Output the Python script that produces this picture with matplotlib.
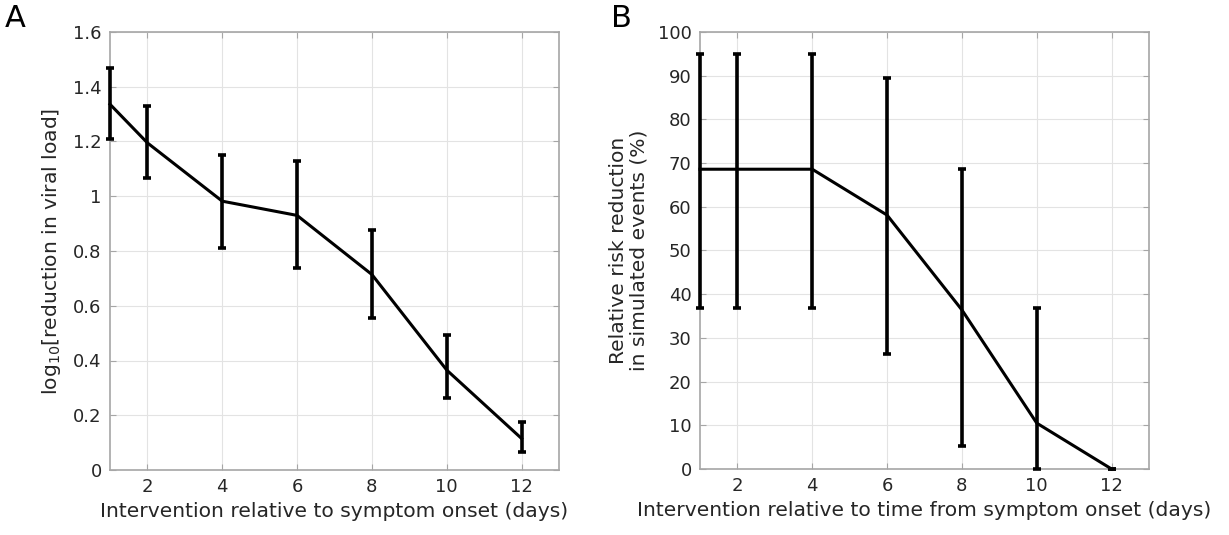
import matplotlib
matplotlib.use("Agg")
import matplotlib.pyplot as plt
import numpy as np

plt.rcParams['font.family'] = ['DejaVu Sans']

days = [1, 2, 4, 6, 8, 10, 12]

# Panel A: log10 reduction in viral load
viral_mean = [1.336, 1.195, 0.982, 0.930, 0.714, 0.365, 0.115]
viral_low = [1.208, 1.067, 0.810, 0.738, 0.557, 0.262, 0.065]
viral_high = [1.470, 1.328, 1.151, 1.130, 0.878, 0.494, 0.174]

# Panel B: relative risk reduction (%)
rrr_mean = [68.6, 68.6, 68.6, 58.1, 36.4, 10.5, 0.0]
rrr_low = [36.8, 36.8, 36.8, 26.4, 5.3, 0.0, 0.0]
rrr_high = [94.9, 94.9, 94.9, 89.5, 68.6, 36.8, 0.0]

xticks = [2, 4, 6, 8, 10, 12]
yticks_a = [0, 0.2, 0.4, 0.6, 0.8, 1, 1.2, 1.4, 1.6]
ytick_labels_a = ['0', '0.2', '0.4', '0.6', '0.8', '1', '1.2', '1.4', '1.6']
yticks_b = list(range(0, 101, 10))

txt = '#262626'
spine = '#a6a6a6'
fs = 13
lfs = 14.6

fig = plt.figure(figsize=(12.29, 5.35), dpi=100)
W, H = 1229, 535
axA = fig.add_axes([110 / W, 1 - 470 / H, 449 / W, 438 / H])
axB = fig.add_axes([700 / W, 1 - 469 / H, 449 / W, 437 / H])


def style(ax):
    ax.set_axisbelow(True)
    ax.grid(True, color='#e3e3e3', linewidth=0.8)
    for s in ax.spines.values():
        s.set_color(spine)
        s.set_linewidth(1.2)
    ax.tick_params(direction='in', length=4, width=0.8, color=spine,
                   labelcolor=txt, labelsize=fs, pad=6,
                   top=True, right=True)


def draw(ax, mean, low, high):
    mean = np.array(mean)
    yerr = np.vstack([mean - np.array(low), np.array(high) - mean])
    ax.errorbar(days, mean, yerr=yerr, color='black', linewidth=2.2,
                elinewidth=2.6, capsize=3, capthick=2.6, clip_on=False,
                zorder=3)


draw(axA, viral_mean, viral_low, viral_high)
style(axA)
axA.set_xlim(1, 13)
axA.set_ylim(0, 1.6)
axA.set_xticks(xticks)
axA.set_yticks(yticks_a)
axA.set_yticklabels(ytick_labels_a)
axA.set_xlabel('Intervention relative to symptom onset (days)', fontsize=lfs,
               color=txt, labelpad=4)
axA.set_ylabel(r'log$_{10}$[reduction in viral load]', fontsize=lfs,
               color=txt, labelpad=7)

draw(axB, rrr_mean, rrr_low, rrr_high)
style(axB)
axB.set_xlim(1, 13)
axB.set_ylim(0, 100)
axB.set_xticks(xticks)
axB.set_yticks(yticks_b)
axB.set_xlabel('Intervention relative to time from symptom onset (days)',
               fontsize=lfs, color=txt, labelpad=4)
axB.set_ylabel('Relative risk reduction\nin simulated events (%)',
               fontsize=lfs, color=txt, labelpad=7, linespacing=1.05)

fig.text(5 / W, 1 - 27 / H, 'A', fontsize=22, color='black')
fig.text(611 / W, 1 - 27 / H, 'B', fontsize=22, color='black')

fig.savefig('out.png', dpi=100, facecolor='white')
